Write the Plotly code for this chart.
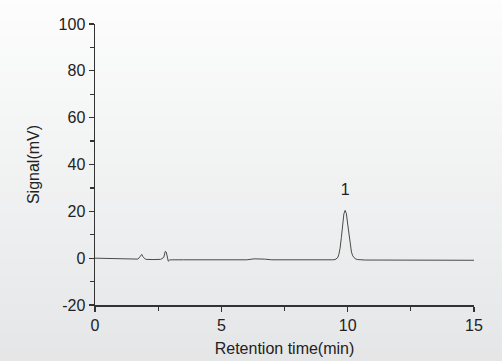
import plotly.graph_objects as go

# Chromatogram readings (time in min, signal in mV)
time_min = [0.0, 0.5, 1.0, 1.4, 1.7, 1.78, 1.85, 1.9, 1.95, 2.0, 2.3, 2.6, 2.72, 2.78, 2.82, 2.86, 2.9, 2.95, 3.05,
            3.5, 4.5, 5.5, 6.0, 6.3, 6.5, 6.7, 7.0, 8.0, 9.0, 9.4, 9.5, 9.55, 9.6, 9.65, 9.7, 9.75, 9.8, 9.85,
            9.9, 9.95, 10.0, 10.05, 10.1, 10.15, 10.2, 10.25, 10.3, 10.4, 10.5, 10.7, 11.0, 12.0, 13.0, 14.0, 15.0]
signal_mv = [0.0, -0.1, -0.3, -0.5, -0.4, 0.6, 1.6, 0.6, -0.2, -0.5, -0.6, -0.5, 0.3, 2.9, 2.6, -0.3, -1.3, -0.8, -0.7,
             -0.7, -0.7, -0.8, -0.7, -0.3, -0.2, -0.4, -0.7, -0.8, -0.8, -0.7, -0.6, -0.4, 0.1, 1.5, 4.3, 8.8, 14.2, 18.9,
             20.4, 19.0, 14.6, 9.7, 5.4, 2.6, 1.0, 0.2, -0.3, -0.6, -0.7, -0.8, -0.8, -0.8, -0.9, -0.9, -0.9]

peak_labels = ["1"]
peak_label_x = [9.9]
peak_label_y = [28.5]

x_ticks = [0, 5, 10, 15]
x_tick_labels = ["0", "5", "10", "15"]
y_ticks = [-20, 0, 20, 40, 60, 80, 100]
y_tick_labels = ["-20", "0", "20", "40", "60", "80", "100"]

fig = go.Figure()
fig.add_trace(go.Scatter(x=time_min, y=signal_mv, mode="lines",
                         line=dict(color="#4a4a4a", width=1), hoverinfo="skip", showlegend=False))
fig.add_trace(go.Scatter(x=peak_label_x, y=peak_label_y, mode="text", text=peak_labels,
                         textfont=dict(family="Liberation Sans, Arial", size=16, color="#222222"),
                         showlegend=False, hoverinfo="skip", cliponaxis=False))

# background gradient (white at top to light grey at bottom)
n = 60
top = (255, 255, 255)
bot = (228, 229, 230)
shapes = []
for i in range(n):
    f = (i + 0.5) / n
    f2 = min(1.0, f * 1.1)
    c = tuple(int(round(top[k] + (bot[k] - top[k]) * f2)) for k in range(3))
    shapes.append(dict(type="rect", xref="paper", yref="paper", layer="below",
                       x0=-1, x1=2, y0=1.2 - (i + 1) * 1.6 / n, y1=1.2 - i * 1.6 / n + 0.002,
                       fillcolor="rgb(%d,%d,%d)" % c, line=dict(width=0)))

axis_common = dict(showline=True, linecolor="#333333", linewidth=1.5, ticks="outside",
                   ticklen=5, tickwidth=1.2, tickcolor="#333333", showgrid=False, zeroline=False,
                   tickfont=dict(family="Liberation Sans, Arial", size=16, color="#222222"),
                   mirror=False, automargin=False)

fig.update_layout(
    width=502, height=361,
    margin=dict(l=95, r=28, t=24, b=56),
    paper_bgcolor="#f2f3f3", plot_bgcolor="rgba(0,0,0,0)",
    shapes=shapes,
    xaxis=dict(range=[0, 15], tickvals=x_ticks, ticktext=x_tick_labels,
               minor=dict(tickvals=[2.5, 7.5, 12.5], ticks="outside", ticklen=4, tickcolor="#333333", tickwidth=1.2),
               title=dict(text="Retention time(min)", standoff=10,
                          font=dict(family="Liberation Sans, Arial", size=16, color="#222222")),
               **axis_common),
    yaxis=dict(range=[-20, 100], tickvals=y_ticks, ticktext=y_tick_labels,
               minor=dict(tickvals=[-10, 10, 30, 50, 70, 90], ticks="outside", ticklen=4, tickcolor="#333333", tickwidth=1.2),
               title=dict(text="Signal(mV)", standoff=15,
                          font=dict(family="Liberation Sans, Arial", size=16, color="#222222")),
               **axis_common),
)

fig.write_html("out.html", config={"displayModeBar": False, "staticPlot": True},
               post_script="document.body.style.margin='0';document.body.style.overflow='hidden';")
